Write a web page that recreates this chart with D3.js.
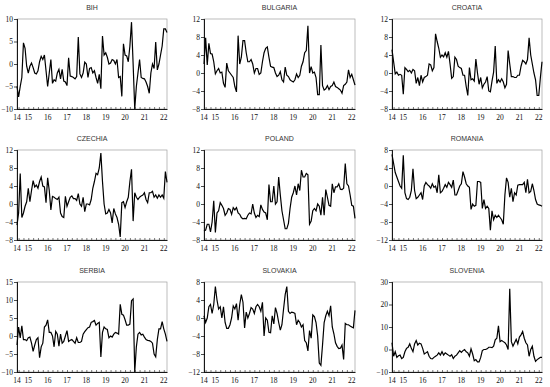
<!DOCTYPE html>
<html>
<head>
<meta charset="utf-8">
<script src="https://cdn.jsdelivr.net/npm/d3@7"></script>
<style>
  body { margin: 0; background: #fff; }
  svg { display: block; }
</style>
</head>
<body>
<div id="chart"></div>
<script>
// monthly observations, 2014M06 .. 2022M03
var startYear = 2014, startMonth = 5; // june (0-based)
var nObs = 94;

var yearLabels = ["14", "15", "16", "17", "18", "19", "20", "21", "22"];

var bih = [-5,-7.3,-5,-3,4.7,3.5,-0.5,-2,-0.5,0.2,-0.8,-2,-2.2,-1.5,0.5,1.7,1,2,-1.5,-5,
  -2,1,-4.3,-3.5,-3.8,-2,-1.2,-3.3,-1.2,-3.8,-4,-4.8,1.4,-2.7,-2.8,-3,-3.3,-2.8,6,-2.2,
  -3,-2,0.4,0,-3,-1,-0.8,-2,-1.5,-3,-4.3,-2.3,-5.5,6.2,2,2.5,1.5,0,0.2,1,
  0.8,0,1,-3,-2.8,-7.2,4.5,2,1.8,0.5,4,9.3,0,-10,-5,-2,1,-3,-3.2,-3.3,
  -4,-5,-6.5,-2,0,-1,4.9,-1.3,0,2,4,7.8,7.8,7];
var bulgaria = [2,7.8,1.8,6.6,4.3,4.2,2.5,-0.2,0.5,1,0,0.2,-2.3,-3.2,2.2,0.5,0,-0.5,-1,-3,
  -4.2,8.3,2,3.5,7.2,7.2,4.5,2.5,2.5,3,2,0,1,1,-0.3,0,2.5,4.5,5.5,5.8,
  3.5,1.5,1.3,1.2,0,-0.8,-0.5,0.3,-1.5,-2,1.3,-0.5,-0.8,-1.5,-1.8,-2,-1.5,-0.2,-1,-0.5,
  1.5,2.5,4.5,5,10.5,0,1.4,0,0.2,-1,-4.8,-4.8,6.2,-2.8,-3.8,-3.5,-2.8,-3.7,-3,-2.8,
  -2,-3,-3.2,-3.5,-3.8,-4.5,-2.8,-2.5,-2,0.7,-1,-0.3,-1.5,-2.7];
var croatia = [5.2,2.5,-0.2,0.2,-0.5,-0.3,-0.5,-4.7,1.2,0.8,0.3,0.6,0,0.8,0.5,-2.3,-1,-2.8,-0.5,-2,
  -1,-0.8,-0.5,2,1.8,0.5,1.2,8.7,7,5.5,3.5,4,3.6,4.5,3.5,4.8,2,-1.2,-0.8,3.5,
  3,1.5,1.2,1,-0.5,-0.5,-3,-5,1.2,-1.5,-1.3,-1.8,3.1,0,-2.5,-1,-3.3,-2.5,-2,-0.8,
  -4,-4.2,-1.8,0.2,6,-2.3,-1.5,-2,-1.3,-2,-3.3,-2.5,5,2,-0.8,-0.8,-1,-1,-0.5,-0.5,
  1.5,2.8,2.5,2,3,7.8,4,2,0,-1.5,-5,-5,-1,2.5];
var czechia = [-4.7,-2,6.8,-3,-2,-0.5,0.5,3.5,0.5,3,5.2,3.8,4.2,3.5,5,6,4,3.8,0.3,5.8,
  3,-1.3,1.7,1.5,1.2,1,1.5,-2,-2.8,-3,1.7,-0.5,0.5,1.5,1.8,1.2,1.2,0.8,2.3,0,
  -0.5,1.5,-1.7,0,0,-0.2,1,3.5,5,6.8,6.5,8,11.3,5,0,-2.2,-2,-1.2,-2,-4.2,
  -1,-2.2,-3,-4.5,-7.3,0.3,0.5,-0.8,0.5,1.5,5,7.7,-3.8,2.5,1.5,1,1.5,1.8,2,2.5,
  1,0.3,2.5,2.5,2.8,1.5,2,1.3,2,1.5,2,1.3,7.2,4.8];
var poland = [-6,-5.8,-4.5,-4.5,-6.2,-4,0.7,-6.3,-2,-1.5,0.3,-0.3,-1,-2.5,-2,-1,-1.2,-2.3,-0.8,-1.3,
  -0.8,-2,-2.3,-3,-3.3,-3.2,-3.3,-2.5,-2,-2.2,0,-2,-3,-2.5,-2.8,-0.2,-1.2,-1.8,-2,-3.5,
  4.3,0.5,0.5,4,0,0.5,6,2,-1.5,-3.5,-5.5,-5.5,-4.3,-1,1.5,2.5,4,2,4.5,3,
  7.5,6,6,6.8,6.5,-4.5,-3.8,-1.5,-1,-1.5,0,-0.5,-2.5,1.5,-2.5,3.2,1.5,-0.3,-0.5,4.5,
  2.5,3.8,3.8,4.5,3.3,3.2,3.5,9,4.5,4,2,-0.3,-0.5,-3.2];
var romania = [7,5,3,2,1,0,-0.5,6.8,-1.5,-2.8,-3,-2.5,-1,3.8,-1,-2.8,-2.5,-2,-1.5,-3,
  0,0.8,0.3,0,-0.5,0.5,-0.3,0,-1.5,2.5,-1.5,-1.2,-0.5,0.3,-0.3,0.8,0.3,-0.3,1.3,-2,
  -2,-1,0,0.5,3.2,2,0.5,0,-0.3,-5.2,-4,-4.5,-4.3,1,1,0.8,-5,-3,-5,-4.5,
  -5,-9.8,-5.5,-7.5,-6.5,-7,-6.5,-7,-7.5,-8.5,-2,1.8,0.8,-2.5,-0.5,-3.5,-1.5,-2,0.2,0.3,
  0.3,0.3,0.8,-1.5,1.5,-1.5,-1.2,0.5,-1,-3,-4,-4.2,-4.3,-4.5];
var serbia = [-2.5,2.5,-0.5,2.8,-1,-1,-1.3,-0.5,-0.3,-2,-4.3,-2.5,-1,-0.5,-6,-3,-2,2.5,3,4.5,
  1,1,0,-3,1.3,0.5,-2.8,0.5,-2,-1.5,0,1.5,-1.5,-1.2,-1,-1.5,-2,-0.5,-1.8,-1.8,
  -1.5,0.5,1.2,1.8,2.3,2.5,3.8,4,4.3,3,3.5,3.8,-5.8,1,2.5,2,1.8,-0.5,0,-0.3,
  0.5,1,0.8,0.5,8.8,6,5.8,4.5,3,3,3.3,9.8,10.3,-10,-3,0.5,1,0.3,0.5,-0.3,
  -1,-1.2,-1.3,-1.5,-2,-5,-5.8,-1,2,2,4,2,0.5,-1.5];
var slovakia = [0.5,-1,0,2.5,3,1,3,7,4,2,2.5,0,2.5,-1,-2.3,-2.3,-1.5,0,2.7,2,
  3.2,-0.5,3,5.2,3.5,-2.2,1.3,0,1,2.3,2,1,2.5,3,2.5,1.5,3.5,-4,0,-0.5,
  -3.2,-3.3,0.5,-1.3,2.3,1,-1,-2.7,-1.5,2,5.2,7,1.5,1,1.3,1.2,1,-1.5,-0.5,-1,
  -2,-1.5,-5,-5.5,-7.3,-2.8,-4.5,0.7,0.3,-1,-4,-10,-10.5,-6,-1,0.5,1.5,0.5,2.7,-2,
  -3.5,-5.5,-6.3,-6.8,-6.7,-6,-9.2,-1.2,-1.5,-1.5,-1.8,-2,-2.2,1.7];
var slovenia = [3,-3,-1,-3.5,-2.8,-2.5,-4,-3.5,-1,0.5,1,2.5,0.5,-1,2.5,4,2,2.8,2.5,0.5,
  -2,-1.5,-1,-3,-4,-4.2,-3.5,-3,-2.5,-1.5,-2.5,-1,-2.5,-1.5,-2,-2.5,-3,-2.3,-4,-3,
  -2.5,-1.5,-0.5,-1.3,-0.5,0,-1,-1.5,-3,0.3,-2,-5,-4.5,-5.5,-5.5,-3.5,-0.5,0,0,0.3,
  1,1,0.8,1.5,4.3,5,10.5,3.5,4,3.5,3,2,0,27,3.5,1.5,3,4.5,2.5,5.5,
  6.5,8,5,3,2,-3,0,1.5,-3,-5.3,-4.5,-4,-3.5,-3.5];

var titles = ["BIH", "BULGARIA", "CROATIA", "CZECHIA", "POLAND", "ROMANIA", "SERBIA", "SLOVAKIA", "SLOVENIA"];
var series = [bih, bulgaria, croatia, czechia, poland, romania, serbia, slovakia, slovenia];
var yDomains = [[-10, 10], [-8, 12], [-8, 12], [-8, 12], [-8, 12], [-12, 8], [-10, 15], [-12, 8], [-10, 30]];
var yTicks = [[-10, -5, 0, 5, 10], [-8, -4, 0, 4, 8, 12], [-8, -4, 0, 4, 8, 12],
  [-8, -4, 0, 4, 8, 12], [-8, -4, 0, 4, 8, 12], [-12, -8, -4, 0, 4, 8],
  [-10, -5, 0, 5, 10, 15], [-12, -8, -4, 0, 4, 8], [-10, 0, 10, 20, 30]];

var width = 550, height = 387;
// panel boxes
var colX = [[17, 167], [204, 355], [392, 542]];
var rowY = [[19, 109], [150, 240], [282, 372]];

var serifFont = "'Liberation Serif', 'Times New Roman', serif";

var svg = d3.select("#chart").append("svg")
  .attr("width", width)
  .attr("height", height);

// month index -> first obs of each year / quarters
var yearStarts = [0];
for (var m = 1; m < nObs; m++) {
  if ((m + startMonth) % 12 == 0) yearStarts.push(m);
}
var quarterTicks = [];
for (var m = 0; m < nObs; m++) {
  if ((m + startMonth) % 3 == 0) quarterTicks.push(m);
}

series.forEach(function(vals, i) {
  var c = i % 3, r = Math.floor(i / 3);
  var x0 = colX[c][0], x1 = colX[c][1], y0 = rowY[r][0], y1 = rowY[r][1];

  var x = d3.scaleLinear().domain([0, nObs - 1]).range([x0, x1]);
  var y = d3.scaleLinear().domain(yDomains[i]).range([y1, y0]);

  var g = svg.append("g");

  // grey frame top/right
  g.append("rect")
    .attr("x", x0).attr("y", y0)
    .attr("width", x1 - x0).attr("height", y1 - y0)
    .attr("fill", "none")
    .attr("stroke", "#a0a0a0")
    .attr("stroke-width", 0.7);

  // title
  g.append("text")
    .attr("x", (x0 + x1) / 2)
    .attr("y", y0 - 9)
    .attr("text-anchor", "middle")
    .attr("font-family", "'Liberation Sans', Arial, sans-serif")
    .attr("font-size", 7)
    .attr("fill", "#333")
    .text(titles[i]);

  // y axis
  var yAxis = d3.axisLeft(y).tickValues(yTicks[i]).tickSize(3).tickSizeOuter(0);
  var ya = g.append("g").attr("transform", "translate(" + x0 + ",0)").call(yAxis);
  ya.attr("font-family", serifFont).attr("font-size", 7.5);
  ya.select(".domain").attr("stroke", "#000").attr("stroke-width", 0.9);
  ya.selectAll(".tick line").attr("stroke", "#000").attr("stroke-width", 0.7).attr("x2", -3).attr("x1", 1);
  ya.selectAll(".tick text")
    .attr("x", -4)
    .attr("fill", "#111");

  // x axis: minor quarterly ticks inside, year labels below
  var xAxis = d3.axisBottom(x).tickValues(quarterTicks).tickSize(-2).tickSizeOuter(0).tickFormat("");
  var xa = g.append("g").attr("transform", "translate(0," + y1 + ")").call(xAxis);
  xa.select(".domain").attr("stroke", "#000").attr("stroke-width", 0.9);
  xa.selectAll(".tick line").attr("stroke", "#222").attr("stroke-width", 0.6);

  g.selectAll(".yl")
    .data(yearStarts)
    .enter().append("text")
    .attr("x", function(d) { return x(d); })
    .attr("y", y1 + 10.5)
    .attr("text-anchor", "middle")
    .attr("font-family", serifFont)
    .attr("font-size", 7.5)
    .attr("fill", "#111")
    .text(function(d, k) { return yearLabels[k]; });

  // the line
  var line = d3.line()
    .x(function(d, k) { return x(k); })
    .y(function(d) { return y(d); });

  g.append("path")
    .datum(vals)
    .attr("d", line)
    .attr("fill", "none")
    .attr("stroke", "#000")
    .attr("stroke-width", 1.2)
    .attr("stroke-linejoin", "miter");
});
</script>
</body>
</html>
